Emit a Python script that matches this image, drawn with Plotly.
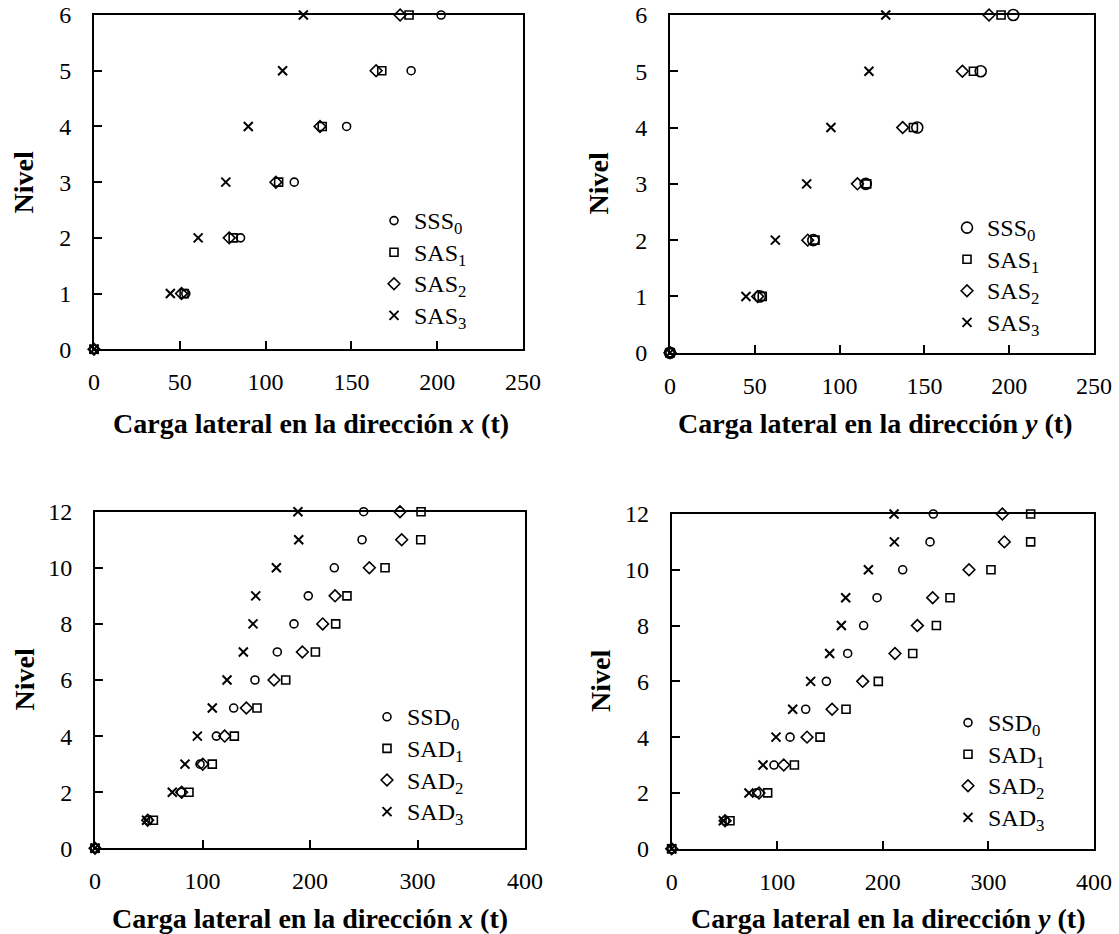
import plotly.graph_objects as go

# Storey levels
levels_6 = [0, 1, 2, 3, 4, 5, 6]
levels_12 = [0, 1, 2, 3, 4, 5, 6, 7, 8, 9, 10, 11, 12]

# 6-storey building, lateral load in x (t)
x6_sss0 = [0, 53.5, 85.4, 116.7, 147.2, 184.8, 202.3]
x6_sas1 = [0, 52.5, 81.1, 107.6, 133.0, 167.7, 183.6]
x6_sas2 = [0, 51.0, 78.8, 106.0, 131.7, 164.4, 178.4]
x6_sas3 = [0, 44.5, 60.7, 76.8, 89.9, 109.9, 122.0]

# 6-storey building, lateral load in y (t)
y6_sss0 = [0, 53.0, 84.5, 115.4, 145.8, 183.2, 202.4]
y6_sas1 = [0, 54.4, 85.5, 116.0, 143.5, 178.9, 195.2]
y6_sas2 = [0, 51.7, 81.2, 110.5, 137.2, 172.4, 188.1]
y6_sas3 = [0, 44.8, 62.1, 80.6, 94.9, 117.3, 127.2]

# 12-storey building, lateral load in x (t)
x12_ssd0 = [0, 49.6, 80.0, 97.7, 112.9, 129.0, 148.8, 169.6, 185.1, 198.4, 222.6, 248.4, 249.9]
x12_sad1 = [0, 54.3, 87.4, 109.1, 129.6, 150.7, 177.4, 205.0, 223.9, 234.4, 269.8, 303.0, 303.3]
x12_sad2 = [0, 49.0, 80.6, 100.2, 120.6, 140.8, 166.5, 192.9, 211.8, 223.3, 255.2, 285.3, 283.7]
x12_sad3 = [0, 48.0, 71.9, 83.7, 95.2, 109.1, 122.8, 138.0, 147.0, 149.5, 168.7, 189.5, 188.8]

# 12-storey building, lateral load in y (t)
y12_ssd0 = [0, 50.5, 80.5, 96.9, 112.1, 126.9, 146.5, 166.7, 181.8, 194.5, 218.8, 244.7, 247.8]
y12_sad1 = [0, 55.2, 90.9, 116.2, 140.5, 165.1, 195.7, 228.3, 250.7, 263.6, 302.4, 340.0, 340.0]
y12_sad2 = [0, 50.5, 82.7, 106.1, 128.2, 151.9, 180.9, 211.5, 232.7, 247.2, 281.6, 315.1, 313.2]
y12_sad3 = [0, 48.9, 73.2, 86.5, 98.8, 114.6, 131.6, 149.6, 160.7, 164.8, 186.3, 210.9, 210.6]

names_s = ["SSS<sub>0</sub>", "SAS<sub>1</sub>", "SAS<sub>2</sub>", "SAS<sub>3</sub>"]
names_d = ["SSD<sub>0</sub>", "SAD<sub>1</sub>", "SAD<sub>2</sub>", "SAD<sub>3</sub>"]

W, H = 1119, 934
SERIF = "Liberation Serif"

symbols = ["circle-open", "square-open", "diamond-open", "x-thin"]


def px_x(v):
    return v / W


def px_y(v):
    return 1 - v / H


panels = [
    # (series, levels, names, legend id, circle size)
    ([x6_sss0, x6_sas1, x6_sas2, x6_sas3], levels_6, names_s, "legend", 8),
    ([y6_sss0, y6_sas1, y6_sas2, y6_sas3], levels_6, names_s, "legend2", 11),
    ([x12_ssd0, x12_sad1, x12_sad2, x12_sad3], levels_12, names_d, "legend3", 8),
    ([y12_ssd0, y12_sad1, y12_sad2, y12_sad3], levels_12, names_d, "legend4", 8),
]

fig = go.Figure()
for i, (series, lv, names, leg, csize) in enumerate(panels):
    ax = "" if i == 0 else str(i + 1)
    sizes = [csize, 8, 9, 9]
    for j, xs in enumerate(series):
        fig.add_trace(go.Scatter(
            x=xs, y=lv, mode="markers",
            name='<span style="font-size:24px">' + names[j] + "</span>",
            xaxis="x" + ax, yaxis="y" + ax, legend=leg,
            cliponaxis=False,
            marker=dict(symbol=symbols[j], size=sizes[j], color="black",
                        line=dict(color="black", width=1.6 if j < 3 else 2)),
        ))

# plot-area pixel boxes: (left, right, top, bottom)
boxes = [(94, 523, 15, 349.3), (670, 1094, 15, 352.7),
         (95, 525, 511.7, 848.3), (671.7, 1094, 514, 848.7)]
xranges = [[0, 250], [0, 250], [0, 400], [0, 400]]
yranges = [[0, 6], [0, 6], [0, 12], [0, 12]]
xdt = [50, 50, 100, 100]
ydt = [1, 1, 2, 2]

layout = dict(
    width=W, height=H, margin=dict(l=0, r=0, t=0, b=0),
    paper_bgcolor="white", plot_bgcolor="white",
    font=dict(family=SERIF, size=24, color="black"),
)

for i, (l, r, t, b) in enumerate(boxes):
    ax = "" if i == 0 else str(i + 1)
    common = dict(showline=True, linecolor="black", linewidth=2, mirror=True,
                  ticks="inside", ticklen=8, tickwidth=1.5, tickcolor="black",
                  showgrid=False, zeroline=False, automargin=False,
                  tickfont=dict(family=SERIF, size=24, color="black"))
    layout["xaxis" + ax] = dict(domain=[px_x(l), px_x(r)], range=xranges[i],
                                dtick=xdt[i], tick0=0, anchor="y" + ax,
                                ticklabelstandoff=10, **common)
    layout["yaxis" + ax] = dict(domain=[px_y(b), px_y(t)], range=yranges[i],
                                dtick=ydt[i], tick0=0, anchor="x" + ax,
                                ticklabelstandoff=16, **common)

legend_pos = [(374, 199.8), (947, 206.8), (367, 696), (948, 701.8)]
for i, (lx, ly) in enumerate(legend_pos):
    key = "legend" if i == 0 else "legend" + str(i + 1)
    layout[key] = dict(x=px_x(lx), y=px_y(ly), xanchor="left", yanchor="top",
                       bgcolor="rgba(0,0,0,0)", borderwidth=0,
                       font=dict(family=SERIF, size=22, color="black"),
                       tracegroupgap=0)

fig.update_layout(**layout)

# axis titles
xtitles = [("Carga lateral en la dirección <i>x</i> (t)", 311, 423),
           ("Carga lateral en la dirección <i>y</i> (t)", 875, 423),
           ("Carga lateral en la dirección <i>x</i> (t)", 310, 918),
           ("Carga lateral en la dirección <i>y</i> (t)", 888, 918)]
for text, cx, cy in xtitles:
    fig.add_annotation(text="<b>" + text + "</b>", x=px_x(cx), y=px_y(cy),
                       xref="paper", yref="paper", showarrow=False,
                       xanchor="center", yanchor="middle",
                       font=dict(family=SERIF, size=28, color="black"))

ytitles = [(22.5, 183), (598.5, 184), (23.5, 680), (600, 681)]
for cx, cy in ytitles:
    fig.add_annotation(text="<b>Nivel</b>", x=px_x(cx), y=px_y(cy),
                       xref="paper", yref="paper", showarrow=False,
                       xanchor="center", yanchor="middle", textangle=-90,
                       font=dict(family=SERIF, size=28, color="black"))

fig.write_html("out.html")
